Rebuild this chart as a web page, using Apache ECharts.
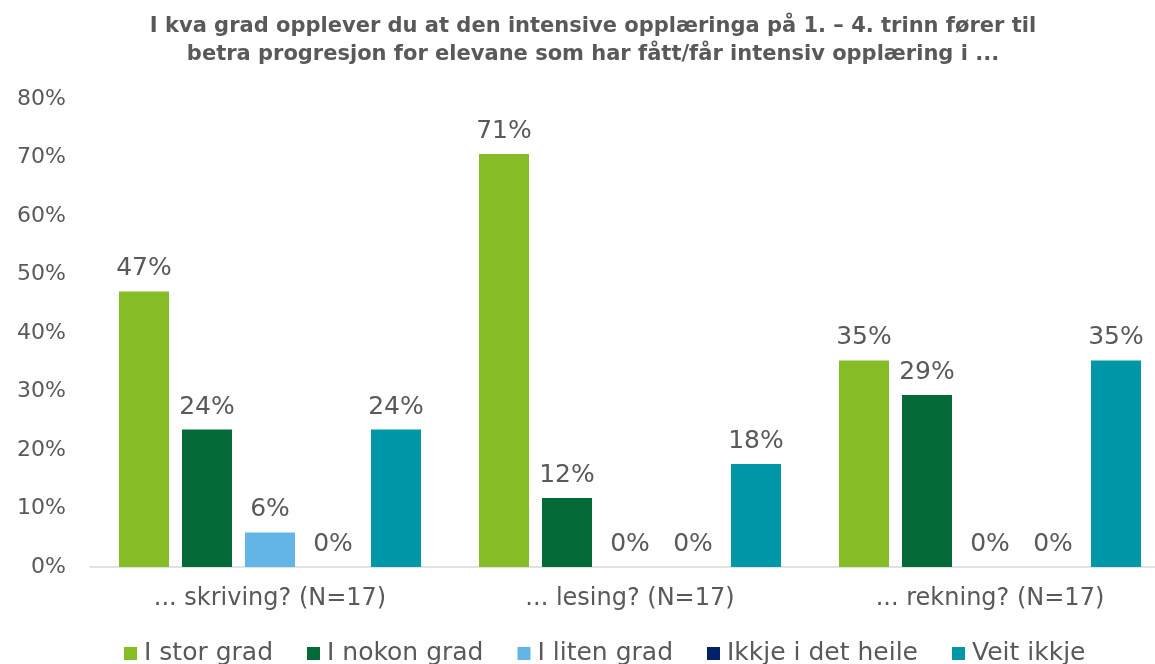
<!DOCTYPE html>
<html>
<head>
<meta charset="utf-8">
<script src="https://cdn.jsdelivr.net/npm/echarts@6/dist/echarts.min.js"></script>
<style>
	html, body { margin: 0; padding: 0; background: #fff; }
	#main { width: 1155px; height: 664px; }
</style>
</head>
<body>
<div id="main"></div>
<script>
var categories = ['... skriving? (N=17)', '... lesing? (N=17)', '... rekning? (N=17)'];
var seriesNames = ['I stor grad', 'I nokon grad', 'I liten grad', 'Ikkje i det heile', 'Veit ikkje'];
var stor = [47.1, 70.6, 35.3];
var nokon = [23.5, 11.8, 29.4];
var liten = [5.9, 0, 0];
var ikkje = [0, 0, 0];
var veit = [23.5, 17.6, 35.3];
var colors = ['#86bc25', '#046a38', '#62b5e5', '#012169', '#0097a9'];
var yTicks = [0, 10, 20, 30, 40, 50, 60, 70, 80];

var textColor = '#595959';
var font = 'DejaVu Sans';

// 初始化图表
var myChart = echarts.init(document.getElementById('main'));

var allData = [stor, nokon, liten, ikkje, veit];
var series = allData.map(function (d, i) {
	return {
		name: seriesNames[i],
		type: 'bar',
		data: d,
		barWidth: 50,
		barGap: '26%',
		itemStyle: { color: colors[i] },
		label: {
			show: true,
			position: 'top',
			distance: 10,
			color: textColor,
			fontFamily: font,
			fontSize: 25,
			formatter: function (p) { return Math.round(p.value) + '%'; }
		}
	};
});

myChart.setOption({
	animation: false,
	textStyle: { fontFamily: font },
	title: {
		text: 'I kva grad opplever du at den intensive opplæringa på 1. – 4. trinn fører til\nbetra progresjon for elevane som har fått/får intensiv opplæring i ...',
		left: 588,
		textAlign: 'center',
		top: 8,
		textStyle: {
			color: textColor,
			fontFamily: font,
			fontSize: 21,
			fontWeight: 'bold',
			lineHeight: 28
		}
	},
	legend: {
		data: seriesNames,
		left: 119,
		top: 636,
		itemWidth: 13,
		itemHeight: 13,
		itemGap: 34,
		icon: 'rect',
		textStyle: { color: textColor, fontFamily: font, fontSize: 25, padding: [0, 0, 0, 2] }
	},
	grid: {
		left: 90,
		top: 99,
		width: 1080,
		height: 468,
		outerBoundsMode: 'none'
	},
	xAxis: {
		type: 'category',
		data: categories,
		axisLine: { lineStyle: { color: '#d9d9d9', width: 1.5 } },
		axisTick: { show: false },
		axisLabel: {
			color: textColor,
			fontFamily: font,
			fontSize: 24,
			margin: 20
		}
	},
	yAxis: {
		type: 'value',
		min: yTicks[0],
		max: yTicks[yTicks.length - 1],
		interval: 10,
		splitLine: { show: false },
		axisLine: { show: false },
		axisTick: { show: false },
		axisLabel: {
			color: textColor,
			fontFamily: font,
			fontSize: 22,
			margin: 24,
			formatter: '{value}%'
		}
	},
	series: series
});
</script>
</body>
</html>
